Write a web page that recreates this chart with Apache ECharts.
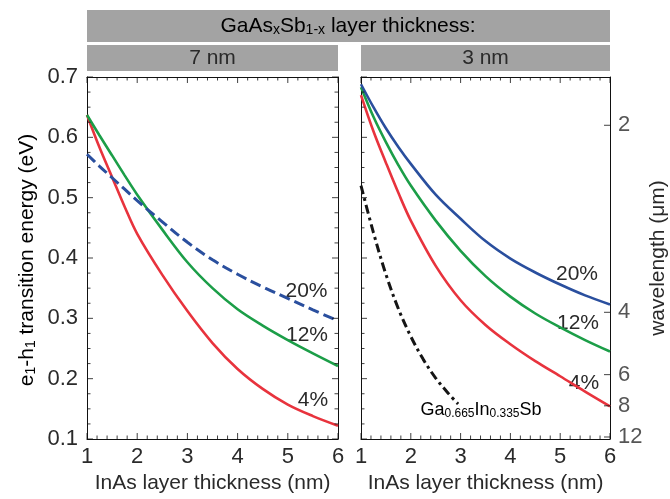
<!DOCTYPE html>
<html><head><meta charset="utf-8">
<script src="https://cdn.jsdelivr.net/npm/echarts@6/dist/echarts.min.js"></script>
<style>html,body{margin:0;padding:0;background:#fff}#c{width:670px;height:499px}</style>
</head><body><div id="c"></div>
<script>
// InAs layer thickness (nm)
const thickness = [1, 1.25, 1.5, 1.75, 2, 2.5, 3, 3.5, 4, 4.5, 5, 5.5, 6];
// e1-h1 transition energy (eV), GaAsSb 7 nm
const left20 = [0.572, 0.552, 0.533, 0.514, 0.495, 0.460, 0.426, 0.397, 0.373, 0.352, 0.333, 0.314, 0.296];
const left12 = [0.637, 0.603, 0.570, 0.537, 0.505, 0.447, 0.393, 0.350, 0.315, 0.288, 0.264, 0.242, 0.221];
const left4  = [0.637, 0.583, 0.534, 0.485, 0.440, 0.372, 0.312, 0.259, 0.216, 0.183, 0.157, 0.138, 0.122];
// GaAsSb 3 nm
const right20 = [0.688, 0.650, 0.615, 0.584, 0.556, 0.505, 0.465, 0.428, 0.399, 0.376, 0.356, 0.338, 0.323];
const right12 = [0.683, 0.634, 0.592, 0.554, 0.520, 0.462, 0.412, 0.370, 0.336, 0.308, 0.285, 0.264, 0.245];
const right4  = [0.670, 0.610, 0.558, 0.508, 0.462, 0.387, 0.330, 0.289, 0.257, 0.229, 0.204, 0.1785, 0.154];
// Ga0.665In0.335Sb reference
const gaInSbThickness = [1, 1.25, 1.5, 1.75, 2, 2.25, 2.5, 2.75, 2.95];
const gaInSbEnergy    = [0.520, 0.442, 0.373, 0.316, 0.270, 0.232, 0.201, 0.176, 0.158];
// wavelength tick labels (µm); photon energy = 1.24 / wavelength
const wavelengthTicks = [2, 4, 6, 8, 12];
const xTicks = [1, 2, 3, 4, 5, 6];
const energyTicks = [0.1, 0.2, 0.3, 0.4, 0.5, 0.6, 0.7];
const panelTitles = ['7 nm', '3 nm'];
const percentLabels = ['20%', '12%', '4%'];

const FONT = "'Liberation Sans', Arial, sans-serif";
const TXT = '#2a2a2a';
const RED = '#e8333d', GREEN = '#1c9e48', BLUE = '#2a4f9e';
const X0 = xTicks[0], X1 = xTicks[xTicks.length - 1];
const Y0 = energyTicks[0], Y1 = energyTicks[energyTicks.length - 1];

const pair = (xs, ys) => xs.map((x, i) => [x, ys[i]]);
const r3 = v => Math.round(v * 1000) / 1000;
// minor tick values between the major ticks
const minorsOf = (majors, n) => {
  const out = [];
  for (let i = 0; i < majors.length - 1; i++) {
    const step = (majors[i + 1] - majors[i]) / n;
    for (let k = 1; k < n; k++) out.push(r3(majors[i] + k * step));
  }
  return out;
};
const xMinor = minorsOf(xTicks, 5);
const yMinor = minorsOf(energyTicks, 4);

function xAx(grid, pos, showLabel) {
  return {
    type: 'value', gridIndex: grid, position: pos, min: X0, max: X1, interval: 1,
    axisLine: {show: true, onZero: false, lineStyle: {color: '#111', width: 1}},
    axisTick: {show: false}, minorTick: {show: false}, splitLine: {show: false},
    axisLabel: {show: showLabel, color: TXT, fontSize: 22, fontFamily: FONT, margin: 7},
    name: showLabel ? 'InAs layer thickness (nm)' : '',
    nameLocation: 'middle', nameGap: 34,
    nameTextStyle: {color: TXT, fontSize: 21, fontFamily: FONT}
  };
}
function yAx(grid, pos, showLabel) {
  return {
    type: 'value', gridIndex: grid, position: pos, min: Y0, max: Y1, interval: 0.1,
    axisLine: {show: true, onZero: false, lineStyle: {color: '#111', width: 1}},
    axisTick: {show: false}, minorTick: {show: false}, splitLine: {show: false},
    axisLabel: {show: showLabel, color: TXT, fontSize: 22, fontFamily: FONT, margin: 9}
  };
}
const yWave = {
  type: 'value', gridIndex: 1, position: 'right', min: Y0, max: Y1,
  axisLine: {show: true, onZero: false, lineStyle: {color: '#111', width: 1}},
  axisTick: {show: false}, minorTick: {show: false}, splitLine: {show: false},
  axisLabel: {show: false},
  name: 'wavelength (\u03bcm)', nameLocation: 'middle', nameGap: 38, nameRotate: 90,
  nameTextStyle: {color: TXT, fontSize: 21, fontFamily: FONT}
};

function lineSeries(xi, yi, data, color, type, width) {
  return {
    type: 'line', xAxisIndex: xi, yAxisIndex: yi, data: data, smooth: 0.35, symbol: 'none',
    lineStyle: {color: color, width: width || 2.6, type: type || 'solid'}
  };
}
// inward tick marks drawn through the axes' own scales
function tickSeries(xi, yi, pts, size, offset) {
  return {
    type: 'scatter', xAxisIndex: xi, yAxisIndex: yi, data: pts, clip: false, z: 4, silent: true,
    symbol: 'rect', symbolSize: size, symbolOffset: offset, itemStyle: {color: '#111'},
    emphasis: {disabled: true}
  };
}
const ticks = [];
[0, 1].forEach(g => {
  const xi = g * 2, yi = g * 2;
  ticks.push(tickSeries(xi, yi, xTicks.map(x => [x, Y0]), [1, 6], [0, -3]));
  ticks.push(tickSeries(xi, yi, xMinor.map(x => [x, Y0]), [1, 3.5], [0, -1.75]));
  ticks.push(tickSeries(xi, yi, xTicks.map(x => [x, Y1]), [1, 6], [0, 3]));
  ticks.push(tickSeries(xi, yi, xMinor.map(x => [x, Y1]), [1, 3.5], [0, 1.75]));
  ticks.push(tickSeries(xi, yi, energyTicks.map(y => [X0, y]), [6, 1], [3, 0]));
  ticks.push(tickSeries(xi, yi, yMinor.map(y => [X0, y]), [3.5, 1], [1.75, 0]));
  if (g === 0) {
    ticks.push(tickSeries(xi, yi, energyTicks.map(y => [X1, y]), [6, 1], [-3, 0]));
    ticks.push(tickSeries(xi, yi, yMinor.map(y => [X1, y]), [3.5, 1], [-1.75, 0]));
  }
});
// wavelength ticks + labels on the right axis, placed through the energy scale
const waveSeries = {
  type: 'scatter', xAxisIndex: 2, yAxisIndex: 3, clip: false, z: 5, silent: true,
  data: wavelengthTicks.map(w => [X1, 1.24 / w, w]),
  symbol: 'rect', symbolSize: [6, 1], symbolOffset: [-3, 0],
  itemStyle: {color: '#111'},
  label: {show: true, position: 'right', distance: 8, color: TXT, fontSize: 22, fontFamily: FONT,
    formatter: p => String(p.data[2])},
  emphasis: {disabled: true}
};

function txt(text, x, y, size) {
  return {type: 'text', x: x, y: y, silent: true, style: {
    text: text, x: 0, y: 0, align: 'center', verticalAlign: 'middle', fill: TXT, font: size + 'px ' + FONT}};
}
const richStyle = (main, s, pad) => ({
  n: {fontSize: main, fontFamily: FONT, color: TXT},
  s: {fontSize: s, fontFamily: FONT, color: TXT, padding: [pad, 0, 0, 0]}
});

const chart = echarts.init(document.getElementById('c'));
chart.setOption({
  animation: false,
  grid: [
    {left: 87, right: 670 - 338, top: 77, bottom: 499 - 442},
    {left: 361, right: 670 - 610, top: 77, bottom: 499 - 442}
  ],
  xAxis: [xAx(0, 'bottom', true), xAx(0, 'top', false), xAx(1, 'bottom', true), xAx(1, 'top', false)],
  yAxis: [yAx(0, 'left', true), yAx(0, 'right', false), yAx(1, 'left', false), yWave],
  series: [
    lineSeries(0, 0, pair(thickness, left4), RED),
    lineSeries(0, 0, pair(thickness, left12), GREEN),
    lineSeries(0, 0, pair(thickness, left20), BLUE, [11, 5], 3),
    lineSeries(2, 2, pair(thickness, right4), RED),
    lineSeries(2, 2, pair(thickness, right12), GREEN),
    lineSeries(2, 2, pair(thickness, right20), BLUE),
    lineSeries(2, 2, pair(gaInSbThickness, gaInSbEnergy), '#151515', [9, 4, 3, 4], 3),
    waveSeries
  ].concat(ticks),
  graphic: [
    {type: 'rect', shape: {x: 87, y: 10, width: 523, height: 32}, style: {fill: '#a3a3a3'}, silent: true},
    {type: 'rect', shape: {x: 87, y: 45, width: 251, height: 26}, style: {fill: '#a3a3a3'}, silent: true},
    {type: 'rect', shape: {x: 361, y: 45, width: 249, height: 26}, style: {fill: '#a3a3a3'}, silent: true},
    {type: 'text', x: 348, y: 26, silent: true, style: {
      text: '{n|GaAs}{s|x}{n|Sb}{s|1-x}{n| layer thickness:}', align: 'center', verticalAlign: 'middle',
      rich: richStyle(21, 14, 9)}},
    {type: 'text', x: 27, y: 260, rotation: Math.PI / 2, silent: true, style: {
      text: '{n|e}{s|1}{n|-h}{s|1}{n| transition energy (eV)}', align: 'center', verticalAlign: 'middle',
      rich: richStyle(21, 14, 9)}},
    txt(panelTitles[0], 212.5, 58, 21),
    txt(panelTitles[1], 485.5, 58, 21),
    txt(percentLabels[0], 306.5, 291.5, 21),
    txt(percentLabels[1], 307, 335.5, 21),
    txt(percentLabels[2], 313, 400.5, 21),
    txt(percentLabels[0], 577, 274, 21),
    txt(percentLabels[1], 578, 323.5, 21),
    txt(percentLabels[2], 584, 383.5, 21),
    {type: 'text', x: 481, y: 410, silent: true, style: {
      text: '{n|Ga}{s|0.665}{n|In}{s|0.335}{n|Sb}', align: 'center', verticalAlign: 'middle',
      rich: richStyle(18, 12, 8)}}
  ]
});
</script></body></html>
